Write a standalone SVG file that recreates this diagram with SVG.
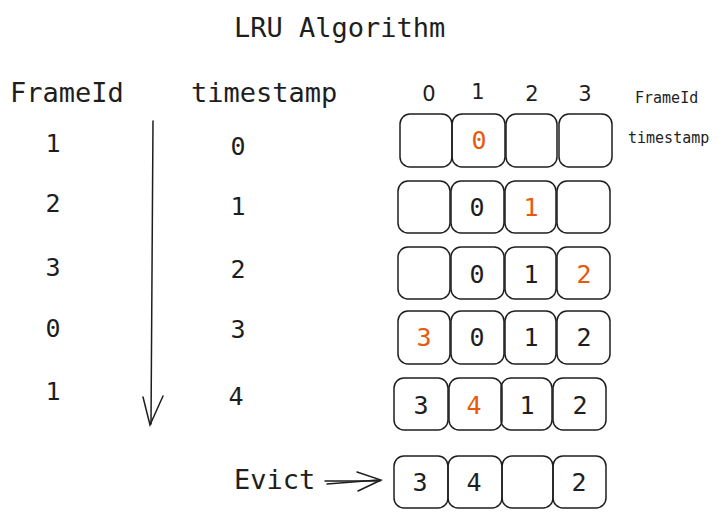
<svg xmlns="http://www.w3.org/2000/svg" width="722" height="517" viewBox="0 0 722 517">
<style>
.t{font-family:"DejaVu Sans Mono","Liberation Mono",monospace;fill:#1e1e1e}
.big{font-size:27px}
.num{font-size:25px;text-anchor:middle}
.sm{font-size:15px}
.hand{font-family:"Comic Sans MS","DejaVu Sans",sans-serif;font-size:21px;text-anchor:middle;fill:#1e1e1e}
.o{fill:#e8590c}
.box{fill:none;stroke:#1e1e1e;stroke-width:1.5}
.ln{fill:none;stroke:#1e1e1e;stroke-width:1.5;stroke-linecap:round}
</style>
<rect width="722" height="517" fill="#fff"/>
<text class="t big" x="234" y="37">LRU Algorithm</text>
<text class="t big" x="10" y="102">FrameId</text>
<text class="t big" x="191" y="102">timestamp</text>
<g id="left-col">
<text class="t num" x="53" y="152">1</text>
<text class="t num" x="53" y="212">2</text>
<text class="t num" x="53" y="276">3</text>
<text class="t num" x="53" y="337">0</text>
<text class="t num" x="53" y="400">1</text>
</g>
<g id="ts-col">
<text class="t num" x="238" y="155">0</text>
<text class="t num" x="238" y="215">1</text>
<text class="t num" x="238" y="278">2</text>
<text class="t num" x="238" y="338">3</text>
<text class="t num" x="236" y="405">4</text>
</g>
<g id="header">
<text class="hand" x="429" y="101">0</text>
<text class="hand" x="478" y="99">1</text>
<text class="hand" x="532" y="101">2</text>
<text class="hand" x="585" y="101">3</text>
<text class="t sm" x="635" y="103">FrameId</text>
<text class="t sm" x="628" y="143">timestamp</text>
</g>
<g id="connectors">
<path class="ln" d="M153 121 L151 424"/>
<path class="ln" d="M143 397 L150 425 L163 396"/>
<path class="ln" d="M325 481 L380 481"/>
<path class="ln" d="M327 484 L378 480"/>
<path class="ln" d="M357 472 L381 480 L358 491"/>
</g>
<g id="row1">
<rect class="box" x="400" y="114" width="52" height="53" rx="10"/>
<rect class="box" x="452" y="114" width="53" height="53" rx="10"/>
<rect class="box" x="506" y="114" width="51" height="53" rx="10"/>
<rect class="box" x="559" y="114" width="53" height="53" rx="10"/>
<text class="t num o" x="479" y="149">0</text>
</g>
<g id="row2">
<rect class="box" x="398" y="181" width="52" height="52" rx="10"/>
<rect class="box" x="451" y="181" width="53" height="52" rx="10"/>
<rect class="box" x="505" y="181" width="51" height="52" rx="10"/>
<rect class="box" x="557" y="181" width="53" height="52" rx="10"/>
<text class="t num" x="477" y="216">0</text>
<text class="t num o" x="531" y="216">1</text>
</g>
<g id="row3">
<rect class="box" x="398" y="247" width="52" height="52" rx="10"/>
<rect class="box" x="451" y="247" width="53" height="52" rx="10"/>
<rect class="box" x="505" y="247" width="51" height="52" rx="10"/>
<rect class="box" x="557" y="247" width="53" height="52" rx="10"/>
<text class="t num" x="477" y="283">0</text>
<text class="t num" x="531" y="283">1</text>
<text class="t num o" x="584" y="283">2</text>
</g>
<g id="row4">
<rect class="box" x="398" y="311" width="52" height="53" rx="10"/>
<rect class="box" x="451" y="311" width="53" height="53" rx="10"/>
<rect class="box" x="505" y="311" width="51" height="53" rx="10"/>
<rect class="box" x="557" y="311" width="53" height="53" rx="10"/>
<text class="t num o" x="424" y="346">3</text>
<text class="t num" x="477" y="346">0</text>
<text class="t num" x="531" y="346">1</text>
<text class="t num" x="584" y="346">2</text>
</g>
<g id="row5">
<rect class="box" x="394" y="378" width="54" height="52" rx="10"/>
<rect class="box" x="449" y="378" width="53" height="52" rx="10"/>
<rect class="box" x="501" y="378" width="51" height="52" rx="10"/>
<rect class="box" x="553" y="378" width="53" height="52" rx="10"/>
<text class="t num" x="421" y="414">3</text>
<text class="t num o" x="474" y="414">4</text>
<text class="t num" x="527" y="414">1</text>
<text class="t num" x="580" y="414">2</text>
</g>
<g id="evict">
<text class="t big" x="234" y="489">Evict</text>
<rect class="box" x="394" y="456" width="54" height="52" rx="10"/>
<rect class="box" x="448" y="456" width="54" height="52" rx="10"/>
<rect class="box" x="502" y="456" width="51" height="52" rx="10"/>
<rect class="box" x="553" y="456" width="53" height="52" rx="10"/>
<text class="t num" x="420" y="491">3</text>
<text class="t num" x="474" y="491">4</text>
<text class="t num" x="579" y="491">2</text>
</g>
</svg>
